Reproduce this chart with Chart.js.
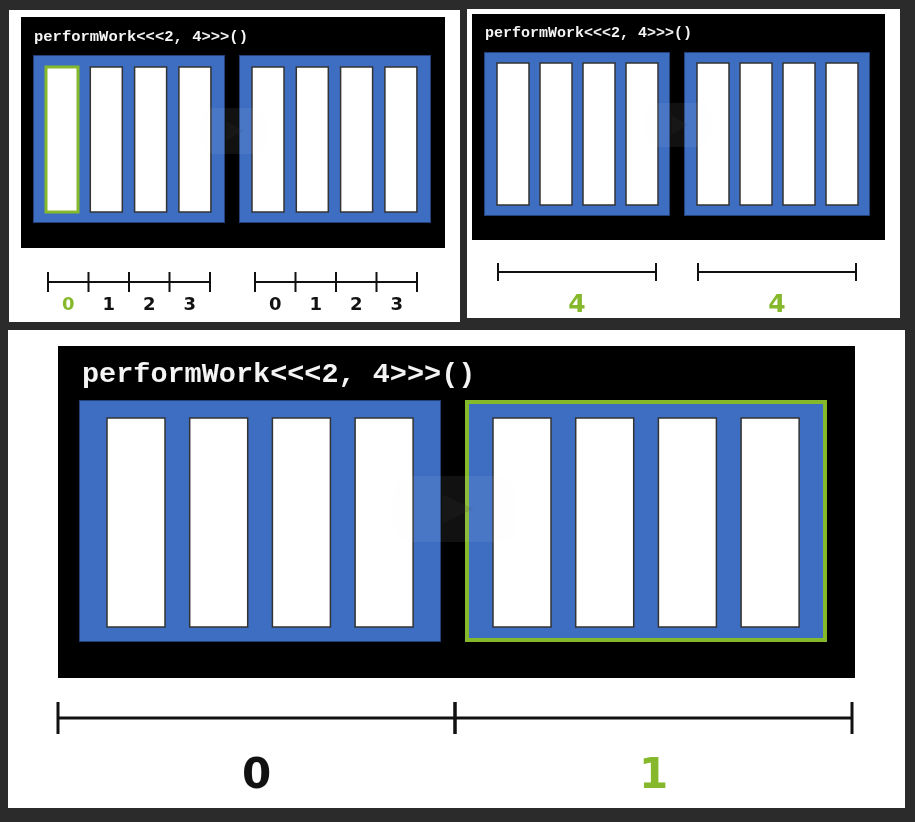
<!DOCTYPE html>
<html>
<head>
<meta charset="utf-8">
<script src="https://cdn.jsdelivr.net/npm/chart.js@4.4.0/dist/chart.umd.min.js"></script>
<style>
  html, body { margin: 0; padding: 0; background: #2b2b2b; }
  canvas { display: block; }
</style>
</head>
<body>
<canvas id="chart" width="915" height="822"></canvas>
<script>
// data
const kernelCall = 'performWork<<<2, 4>>>()';
const blockIdx = [0, 1];             // blocks in grid
const threadIdx = [0, 1, 2, 3];      // threads per block
const threadLabels = ['0', '1', '2', '3'];
const blockDimLabels = ['4', '4'];
const blockIdxLabels = ['0', '1'];
const hiThread = { block: 0, thread: 0 };  // panel 1 highlight
const hiBlock = 1;                          // panel 3 highlight

const BLUE = '#3d6ec2', GREEN = '#86b82c', INK = '#111';

// layout of the three panels (page pixels)
const panels = [
  { white: [9, 10, 451, 312], black: [21, 17, 424, 231], title: [34, 41, 15.5],
    block0: [33, 55], blockW: 192, blockH: 168, blockGap: 14,
    thr0: 13, thrW: 32, thrPitch: 44.3, thrTop: 12, thrH: 145,
    ruler: { y: 282, tick: 10, x0: [48, 255], w: 162, lw: 2 }, mode: 'threads',
    labelY: 305, labelSize: 18, play: [200, 108, 66, 46] },
  { white: [467, 9, 433, 309], black: [472, 14, 413, 226], title: [485, 37, 15],
    block0: [484, 52], blockW: 186, blockH: 164, blockGap: 14,
    thr0: 13, thrW: 32, thrPitch: 43, thrTop: 11, thrH: 142,
    ruler: { y: 272, tick: 9, x0: [498, 698], w: 158, lw: 2 }, mode: 'dim',
    labelY: 305, labelSize: 25, play: [645, 103, 66, 44] },
  { white: [8, 330, 897, 478], black: [58, 346, 797, 332], title: [82, 382, 28.5],
    block0: [79, 400], blockW: 362, blockH: 242, blockGap: 24,
    thr0: 28, thrW: 58, thrPitch: 82.7, thrTop: 18, thrH: 209,
    ruler: { y: 718, tick: 16, x0: [58, 455], w: 397, lw: 3 }, mode: 'idx',
    labelY: 777, labelSize: 42, play: [393, 476, 124, 66] }
];

function drawPanel(ctx, p, pi) {
  ctx.fillStyle = '#fff';
  ctx.fillRect(...p.white);
  ctx.fillStyle = '#000';
  ctx.fillRect(...p.black);
  ctx.fillStyle = '#f4f4f4';
  ctx.font = `bold ${p.title[2]}px "Courier New", "Liberation Mono", monospace`;
  ctx.textBaseline = 'alphabetic';
  ctx.textAlign = 'left';
  ctx.fillText(kernelCall, p.title[0], p.title[1]);

  blockIdx.forEach(b => {
    const bx = p.block0[0] + b * (p.blockW + p.blockGap);
    const by = p.block0[1];
    ctx.fillStyle = BLUE;
    ctx.fillRect(bx, by, p.blockW, p.blockH);
    ctx.strokeStyle = '#23427a';
    ctx.lineWidth = 1;
    ctx.strokeRect(bx + 0.5, by + 0.5, p.blockW - 1, p.blockH - 1);
    if (pi === 2 && b === hiBlock) {
      ctx.strokeStyle = GREEN;
      ctx.lineWidth = 4;
      ctx.strokeRect(bx + 2, by + 2, p.blockW - 4, p.blockH - 4);
    }
    threadIdx.forEach(t => {
      const tx = bx + p.thr0 + t * p.thrPitch;
      const ty = by + p.thrTop;
      ctx.fillStyle = '#fff';
      ctx.fillRect(tx, ty, p.thrW, p.thrH);
      ctx.strokeStyle = '#333';
      ctx.lineWidth = 1.5;
      ctx.strokeRect(tx, ty, p.thrW, p.thrH);
      if (pi === 0 && b === hiThread.block && t === hiThread.thread) {
        ctx.strokeStyle = GREEN;
        ctx.lineWidth = 3;
        ctx.strokeRect(tx, ty, p.thrW, p.thrH);
      }
    });
  });

  // faint play button overlay
  const [px, py, pw, ph] = p.play;
  ctx.fillStyle = 'rgba(235,240,250,0.07)';
  ctx.beginPath();
  ctx.roundRect(px, py, pw, ph, ph * 0.3);
  ctx.fill();
  ctx.fillStyle = 'rgba(60,60,60,0.15)';
  ctx.beginPath();
  ctx.moveTo(px + pw * 0.4, py + ph * 0.28);
  ctx.lineTo(px + pw * 0.65, py + ph * 0.5);
  ctx.lineTo(px + pw * 0.4, py + ph * 0.72);
  ctx.closePath();
  ctx.fill();

  // rulers
  const r = p.ruler;
  ctx.strokeStyle = INK;
  ctx.lineWidth = r.lw;
  ctx.font = `900 ${p.labelSize}px "DejaVu Sans", Verdana, sans-serif`;
  ctx.textAlign = 'center';
  ctx.textBaseline = 'middle';
  r.x0.forEach((x0, bi) => {
    const n = p.mode === 'threads' ? threadIdx.length : 1;
    ctx.beginPath();
    ctx.moveTo(x0, r.y); ctx.lineTo(x0 + r.w, r.y);
    for (let k = 0; k <= n; k++) {
      const tx = x0 + r.w * k / n;
      ctx.moveTo(tx, r.y - r.tick); ctx.lineTo(tx, r.y + r.tick);
    }
    ctx.stroke();
    if (p.mode === 'threads') {
      threadLabels.forEach((lab, k) => {
        ctx.fillStyle = (bi === hiThread.block && k === hiThread.thread) ? GREEN : INK;
        ctx.fillText(lab, x0 + r.w * (k + 0.5) / n, p.labelY);
      });
    } else if (p.mode === 'dim') {
      ctx.fillStyle = GREEN;
      ctx.fillText(blockDimLabels[bi], x0 + r.w / 2, p.labelY);
    } else {
      ctx.fillStyle = bi === hiBlock ? GREEN : INK;
      ctx.fillText(blockIdxLabels[bi], x0 + r.w / 2, p.labelY);
    }
  });
}

const diagramPlugin = {
  id: 'diagram',
  afterDraw(chart) {
    const ctx = chart.ctx;
    ctx.save();
    panels.forEach((p, i) => drawPanel(ctx, p, i));
    ctx.restore();
  }
};

document.addEventListener('DOMContentLoaded', () => {
  new Chart(document.getElementById('chart'), {
    type: 'scatter',
    data: { datasets: [{ data: [] }] },
    options: {
      responsive: false,
      animation: false,
      layout: { padding: 0 },
      plugins: { legend: { display: false }, tooltip: { enabled: false } },
      scales: { x: { display: false }, y: { display: false } }
    },
    plugins: [diagramPlugin]
  });
});
</script>
</body>
</html>
